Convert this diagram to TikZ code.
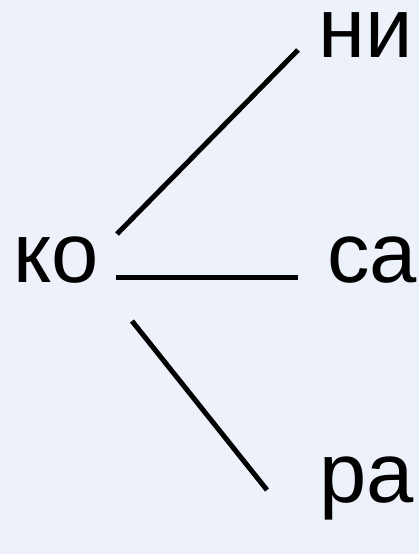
\documentclass[tikz,border=0pt]{standalone}
\usepackage{fontspec}
\setmainfont{Liberation Sans}
\definecolor{bg}{RGB}{237,241,250}
\begin{document}
\begin{tikzpicture}[x=1bp,y=-1bp,
  syl/.style={anchor=base west,inner sep=0pt,text height=45bp,font=\fontsize{85bp}{90bp}\selectfont},
  link/.style={line width=5bp,black}]
\fill[bg] (0,0) rectangle (419,554);
\useasboundingbox (0,0) rectangle (419,554);
\node[syl] (ko) at (13,282) {ко};
\node[syl] (ni) at (318,58) {ни};
\node[syl] (sa) at (327,282) {са};
\node[syl] (ra) at (319,502) {ра};
\coordinate (a1) at (117,234);
\coordinate (b1) at (298,50);
\coordinate (a2) at (116,277);
\coordinate (b2) at (298,277);
\coordinate (a3) at (132,321);
\coordinate (b3) at (267,490);
\draw[link] (a1) -- (b1);
\draw[link] (a2) -- (b2);
\draw[link] (a3) -- (b3);
\end{tikzpicture}
\end{document}
